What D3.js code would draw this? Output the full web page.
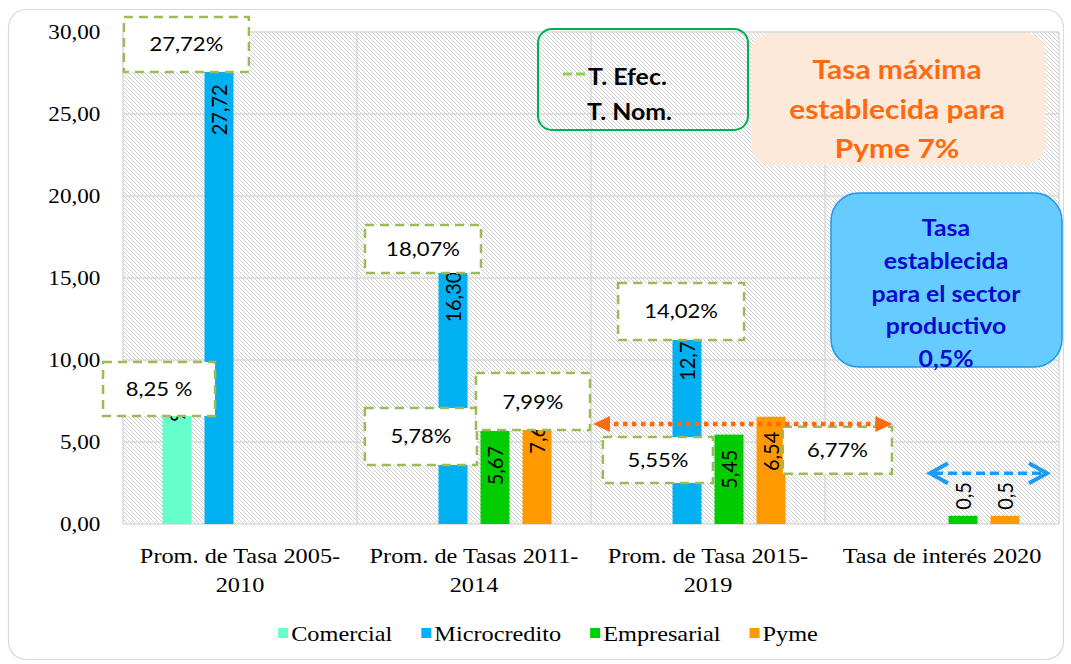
<!DOCTYPE html>
<html><head><meta charset="utf-8">
<script src="https://cdn.jsdelivr.net/npm/d3@7"></script>
<style>body{margin:0;background:#fff;overflow:hidden}
.serif{font-family:"Liberation Serif","Times New Roman",serif;}
.sans{font-family:Lato,"Open Sans",sans-serif;}
</style>
</head><body>
<svg id="c" width="1071" height="664"></svg>
<script>
// ---------- data ----------
const categories = ["Prom. de Tasa 2005-2010", "Prom. de Tasas 2011-2014", "Prom. de Tasa 2015-2019", "Tasa de interés 2020"];
const seriesNames = ["Comercial", "Microcredito", "Empresarial", "Pyme"];
const comercial    = [9.55, null, null, null];
const microcredito = [27.72, 16.30, 12.75, null];
const empresarial  = [null, 5.67, 5.45, 0.5];
const pyme         = [null, 7.60, 6.54, 0.5];
const yTicks = [0, 5, 10, 15, 20, 25, 30];
// effective-rate callouts: text, category position (units), value position
const effTexts = ["27,72%", "8,25 %", "18,07%", "5,78%", "7,99%", "14,02%", "5,55%", "6,77%"];
const effCat   = [0.271, 0.154, 1.282, 1.273, 1.752, 2.385, 2.286, 3.053];
const effVal   = [29.24, 8.23, 16.77, 5.34, 7.47, 12.96, 3.90, 4.50];
const effW     = [125, 112, 116, 112, 114, 126, 110, 109];
const effH     = [55, 54, 48, 57, 57, 57, 46, 47];
const legendTexts = ["T. Efec.", "T. Nom."];
const pymeNote = ["Tasa máxima", "establecida para", "Pyme 7%"];
const sectorNote = ["Tasa", "establecida", "para el sector", "productivo", "0,5%"];

// ---------- layout ----------
const colors = {Comercial: "#66FFCC", Microcredito: "#00B0F0", Empresarial: "#00CC00", Pyme: "#FF9900"};
const SX = 1.13;
const L = 123, R = 1059, T = 32, B = 524;
const svg = d3.select("#c");

const x0 = d3.scaleBand().domain(categories).range([L, R]).paddingInner(0).paddingOuter(0);
const x1 = d3.scaleBand().domain(seriesNames).range([0, x0.bandwidth()]).paddingInner(0.31).paddingOuter(0.94);
const y = d3.scaleLinear().domain([0, 30]).range([B, T]);
const xu = d3.scaleLinear().domain([0, categories.length]).range([L, R]);

function stext(parent, x, yy, str) {
  const g = parent.append("g").attr("transform", `translate(${x},${yy}) scale(${SX},1)`);
  return g.append("text").text(str);
}

// outer frame
svg.append("rect").attr("x", 8.5).attr("y", 9.5).attr("width", 1055).attr("height", 650)
  .attr("rx", 18).attr("fill", "#fff").attr("stroke", "#d9d9d9").attr("stroke-width", 1.2);

// hatch pattern
const defs = svg.append("defs");
const pat = defs.append("pattern").attr("id", "hatch").attr("patternUnits", "userSpaceOnUse")
  .attr("width", 4).attr("height", 4);
pat.append("rect").attr("width", 4).attr("height", 4).attr("fill", "#fff");
pat.append("path").attr("d", "M-1,-1 L5,5 M-1,3 L1,5 M3,-1 L5,1")
  .attr("stroke", "#c8c8c8").attr("stroke-width", 0.9);

svg.append("rect").attr("x", L).attr("y", T).attr("width", R - L).attr("height", B - T).attr("fill", "url(#hatch)");

// gridlines
svg.append("g").selectAll("line").data(yTicks).join("line")
  .attr("x1", L).attr("x2", R).attr("y1", d => y(d)).attr("y2", d => y(d))
  .attr("stroke", "#d9d9d9").attr("stroke-width", 1.5);
const bounds = categories.map(c => x0(c)).concat([R]);
svg.append("g").selectAll("line").data(bounds).join("line")
  .attr("x1", d => d).attr("x2", d => d).attr("y1", T).attr("y2", B)
  .attr("stroke", "#d9d9d9").attr("stroke-width", 1.5);

// bars
const seriesData = [comercial, microcredito, empresarial, pyme];
const barData = [];
seriesData.forEach((arr, si) => arr.forEach((v, ci) => {
  if (v != null) barData.push({s: seriesNames[si], c: categories[ci], v});
}));
svg.append("g").selectAll("rect").data(barData).join("rect")
  .attr("x", d => x0(d.c) + x1(d.s)).attr("width", x1.bandwidth())
  .attr("y", d => y(d.v)).attr("height", d => y(0) - y(d.v))
  .attr("fill", d => colors[d.s]);

// bar value labels (rotated)
const fmt = v => (v < 1 ? v.toFixed(1) : v.toFixed(2)).replace(".", ",");
svg.append("g").selectAll("text").data(barData).join("text")
  .attr("class", "sans")
  .attr("transform", d => {
    const cx = x0(d.c) + x1(d.s) + x1.bandwidth() / 2;
    const yy = d.v < 2 ? y(d.v) - 6 : y(d.v) + 15;
    return `translate(${cx},${yy}) rotate(-90) scale(1,1.08)`;
  })
  .attr("text-anchor", d => d.v < 2 ? "start" : "end")
  .attr("dy", "0.36em")
  .attr("font-size", 20)
  .attr("fill", "#000").text(d => fmt(d.v));

// effective-rate callout boxes
const eff = effTexts.map((t, i) => ({t, cx: xu(effCat[i]), cy: y(effVal[i]), w: effW[i], h: effH[i]}));
const eg = svg.append("g");
eff.forEach(d => {
  eg.append("rect").attr("x", d.cx - d.w / 2).attr("y", d.cy - d.h / 2).attr("width", d.w).attr("height", d.h)
    .attr("fill", "#fff").attr("stroke", "#9BBB59").attr("stroke-width", 2.5).attr("stroke-dasharray", "9,6");
  stext(eg, d.cx, d.cy, d.t).attr("class", "sans").attr("text-anchor", "middle").attr("dy", "0.36em")
    .attr("font-size", 19.5).attr("fill", "#000");
});

// orange dotted double arrow (Pyme max rate)
const oy = y(6.1), ox1 = xu(2.0085), ox2 = xu(3.288);
svg.append("line").attr("x1", ox1 + 12).attr("x2", ox2 - 12).attr("y1", oy).attr("y2", oy)
  .attr("stroke", "#FF6A10").attr("stroke-width", 4.5).attr("stroke-dasharray", "4.5,4.5");
svg.append("path").attr("d", `M${ox1},${oy} L${ox1 + 17},${oy - 8} L${ox1 + 17},${oy + 8} Z`).attr("fill", "#FF6A10");
svg.append("path").attr("d", `M${ox2},${oy} L${ox2 - 17},${oy - 8} L${ox2 - 17},${oy + 8} Z`).attr("fill", "#FF6A10");

// blue dashed double arrow
const by = y(3.1), bx1 = xu(3.4487), bx2 = xu(3.9487);
svg.append("line").attr("x1", bx1 + 4).attr("x2", bx2 - 4).attr("y1", by).attr("y2", by)
  .attr("stroke", "#1C9CF0").attr("stroke-width", 3.5).attr("stroke-dasharray", "9,5");
svg.append("path").attr("d", `M${bx1 + 18},${by - 10} L${bx1},${by} L${bx1 + 18},${by + 10}`)
  .attr("fill", "none").attr("stroke", "#1C9CF0").attr("stroke-width", 4);
svg.append("path").attr("d", `M${bx2 - 18},${by - 10} L${bx2},${by} L${bx2 - 18},${by + 10}`)
  .attr("fill", "none").attr("stroke", "#1C9CF0").attr("stroke-width", 4);

// line-style legend box
const lg = svg.append("g");
lg.append("rect").attr("x", 538).attr("y", 29).attr("width", 210).attr("height", 101).attr("rx", 14)
  .attr("fill", "none").attr("stroke", "#00B050").attr("stroke-width", 2);
lg.append("line").attr("x1", 563).attr("x2", 587).attr("y1", 74).attr("y2", 74)
  .attr("stroke", "#92D050").attr("stroke-width", 3).attr("stroke-dasharray", "9,4");
stext(lg, 588, 85, legendTexts[0]).attr("class", "sans").attr("font-weight", "bold")
  .attr("font-size", 22).attr("fill", "#000");
stext(lg, 587, 120, legendTexts[1]).attr("class", "sans").attr("font-weight", "bold")
  .attr("font-size", 22).attr("fill", "#000");

// peach note
const pg = svg.append("g");
pg.append("rect").attr("x", 751).attr("y", 33).attr("width", 294).attr("height", 132).attr("rx", 20)
  .attr("fill", "#FDE9DA");
pymeNote.forEach((t, i) => {
  stext(pg, 897, 79 + i * 39.5, t).attr("class", "sans").attr("text-anchor", "middle")
    .attr("font-weight", "bold").attr("font-size", 26.5).attr("fill", "#FF6A10");
});

// blue note
const bg = svg.append("g");
bg.append("rect").attr("x", 831).attr("y", 193).attr("width", 231).attr("height", 174).attr("rx", 28)
  .attr("fill", "#66CCFF").attr("stroke", "#1E96F0").attr("stroke-width", 1.5);
sectorNote.forEach((t, i) => {
  stext(bg, 946, 236 + i * 32.8, t).attr("class", "sans").attr("text-anchor", "middle")
    .attr("font-weight", "bold").attr("font-size", 22).attr("fill", "#0A0ACF");
});

// y axis
const ya = svg.append("g").attr("transform", `translate(${L},0)`)
  .call(d3.axisLeft(y).tickValues(yTicks).tickSize(0).tickPadding(20)
    .tickFormat(d => d.toFixed(2).replace(".", ",")));
ya.select(".domain").remove();
ya.attr("font-family", null).attr("font-size", null);
ya.selectAll("text").attr("class", "serif").attr("font-size", 20.5).attr("fill", "#000")
  .attr("transform", `scale(${SX},1)`);

// x axis labels
const xa = svg.append("g").attr("transform", `translate(0,${B})`)
  .call(d3.axisBottom(x0).tickSize(0).tickPadding(0));
xa.select(".domain").remove();
xa.attr("font-family", null).attr("font-size", null);
xa.selectAll("text").each(function(d) {
  const lines = d.replace(/-(\d+)$/, "-\n$1").split("\n");
  const t = d3.select(this).text(null).attr("class", "serif").attr("font-size", 21.5).attr("fill", "#000")
    .attr("transform", `scale(${SX},1)`).attr("dy", null).attr("y", 0);
  lines.forEach((ln, i) => t.append("tspan").attr("x", 0).attr("y", 39 + i * 29).text(ln));
});

// bottom legend
const leg = svg.append("g");
const items = [];
seriesNames.forEach(n => {
  const g = leg.append("g");
  g.append("rect").attr("x", 0).attr("y", -6).attr("width", 10).attr("height", 10).attr("fill", colors[n]);
  const t = g.append("g").attr("transform", `translate(13,0) scale(${SX},1)`).append("text")
    .attr("class", "serif").attr("font-size", 21.5).attr("dy", "0.33em").attr("fill", "#000").text(n);
  const w = 13 + t.node().getComputedTextLength() * SX;
  items.push({g, w});
});
const gap = 29;
const total = d3.sum(items, d => d.w) + gap * (items.length - 1);
let lx = 548 - total / 2;
items.forEach(it => { it.g.attr("transform", `translate(${lx},634)`); lx += it.w + gap; });
</script>
</body></html>
